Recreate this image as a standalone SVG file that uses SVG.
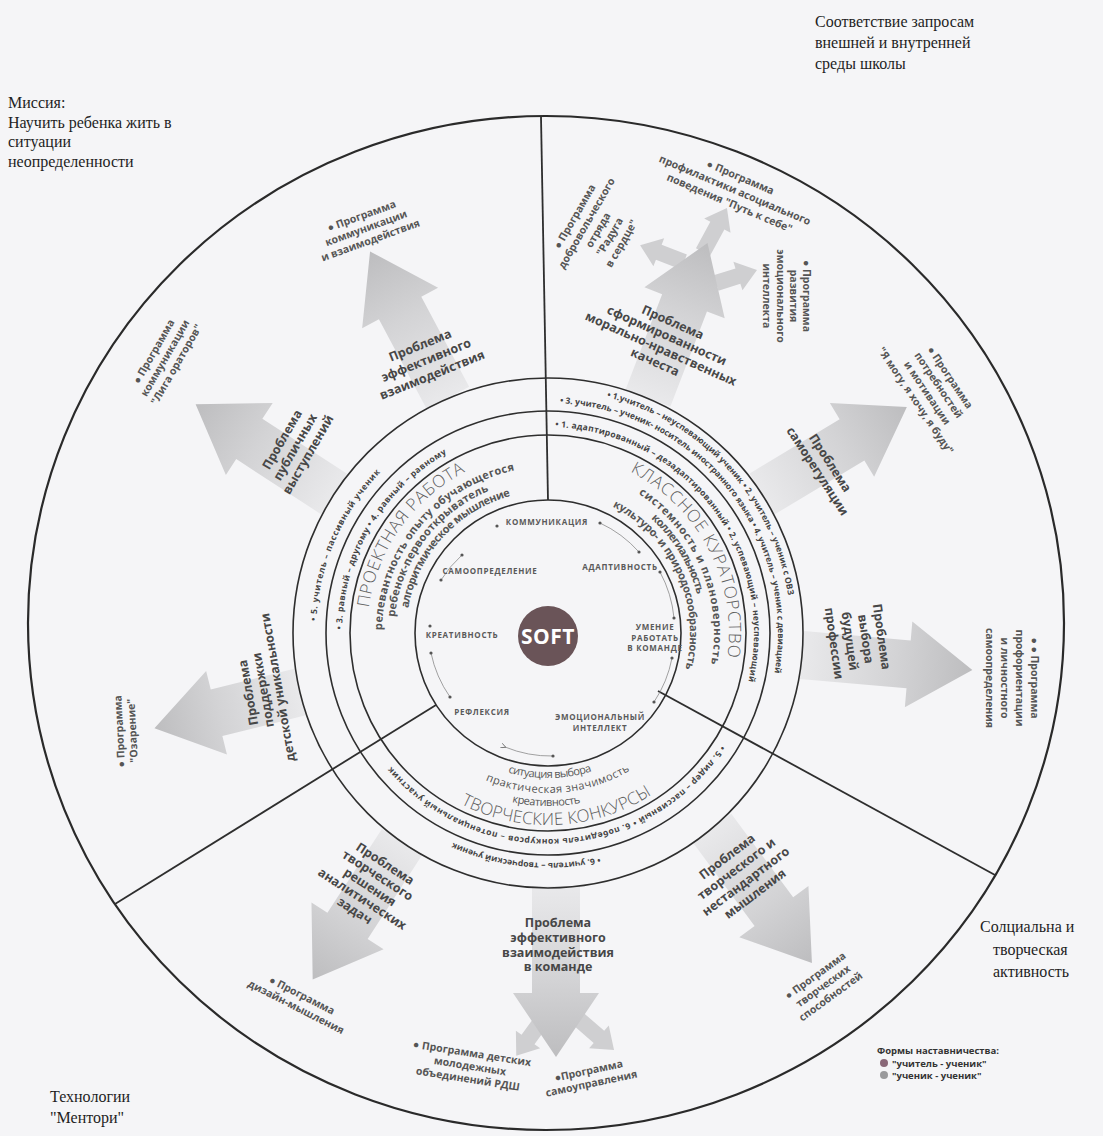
<svg xmlns="http://www.w3.org/2000/svg" width="1103" height="1136" viewBox="0 0 1103 1136">
<style>
.ring{fill:none;stroke:#2e2e2e;stroke-width:1.6}
.outer{fill:none;stroke:#2a2a2a;stroke-width:2.2}
.sep{stroke:#2e2e2e;stroke-width:1.8;fill:none}
.arr{fill:url(#ag)}
.sarr{fill:#cfcfd1}
.prob{font-family:"Open Sans","Noto Sans",sans-serif;font-weight:700;font-size:12.5px;fill:#474747;text-anchor:middle}
.prog{font-family:"Open Sans","Noto Sans",sans-serif;font-weight:700;font-size:10.5px;fill:#555;text-anchor:middle}
.skill{font-family:"Open Sans","Noto Sans",sans-serif;font-weight:700;font-size:8px;fill:#5a5a5a;letter-spacing:0.7px;text-anchor:middle}
.big{font-family:"Open Sans","Noto Sans",sans-serif;font-weight:300;font-size:17px;fill:#5e5e5e}
.sub{font-family:"Open Sans","Noto Sans",sans-serif;font-weight:700;font-size:11px;fill:#555}
.sub2{font-family:"Open Sans","Noto Sans",sans-serif;font-weight:400;font-size:11px;fill:#555}
.ment{font-family:"Open Sans","Noto Sans",sans-serif;font-weight:700;font-size:8.5px;fill:#444}
.corner{font-family:"Liberation Serif",serif;font-size:16px;fill:#1e1e1e}
.thin{fill:none;stroke:#8a8a8a;stroke-width:0.8}
.dot{fill:#555}
.leg{font-family:"Open Sans","Noto Sans",sans-serif;font-weight:700;font-size:9.5px;fill:#333}
</style>
<defs>
<linearGradient id="ag" x1="0" y1="0" x2="1" y2="0">
<stop offset="0" stop-color="#e9e9eb"/>
<stop offset="0.55" stop-color="#d3d3d5"/>
<stop offset="1" stop-color="#bdbdbf"/>
</linearGradient>
<marker id="ah" viewBox="0 0 6 6" refX="1" refY="3" markerWidth="6" markerHeight="6" orient="auto-start-reverse">
<path d="M6,0 L0,3 L6,6" fill="none" stroke="#666" stroke-width="1"/>
</marker>
<path id="t1" d="M368.8,607.8 A181,181 0 0 1 465.8,471.7"/>
<path id="t2" d="M382.0,630.1 A166,166 0 0 1 516.3,470.1"/>
<path id="t3" d="M394.8,616.9 A154,154 0 0 1 490.3,490.2"/>
<path id="t4" d="M408.2,608.3 A142,142 0 0 1 511.2,495.8"/>
<path id="t5" d="M342.0,629.4 A206,206 0 0 1 448.1,452.8"/>
<path id="t6" d="M316.3,620.9 A232,232 0 0 1 381.1,471.8"/>
<path id="t7" d="M630.2,471.7 A181,181 0 0 1 727.2,658.2"/>
<path id="t8" d="M638.4,493.8 A166,166 0 0 1 710.9,664.7"/>
<path id="t9" d="M651.0,518.6 A154,154 0 0 1 697.4,595.7"/>
<path id="t10" d="M612.5,506.5 A142,142 0 0 1 685.2,669.8"/>
<path id="t11" d="M555.2,427.1 A206,206 0 0 1 747.9,682.8"/>
<path id="t12" d="M560.0,403.3 A230,230 0 0 1 756.4,730.2"/>
<path id="t13" d="M606.8,397.2 A243,243 0 0 1 758.4,754.5"/>
<path id="t14" d="M460.8,804.1 A192,192 0 0 0 652.6,794.0"/>
<path id="t15" d="M512.0,802.2 A173,173 0 0 0 581.0,802.8"/>
<path id="t16" d="M485.5,780.3 A160,160 0 0 0 630.4,770.2"/>
<path id="t17" d="M508.0,772.4 A145,145 0 0 0 592.8,770.9"/>
<path id="t18" d="M720.8,745.2 A206,206 0 0 1 390.2,765.4"/>
<path id="t19" d="M599.7,857.1 A230,230 0 0 1 440.0,836.1"/>
</defs>
<rect width="1103" height="1136" fill="#f5f5f7"/>

<g id="arrows">
<path class="sarr" d="M0,-8 H30 V-15 L50,0 L30,15 V8 H0 Z" transform="translate(703,252) rotate(-61.4)"/>
<path class="sarr" d="M0,-8 H27 V-15 L47,0 L27,15 V8 H0 Z" transform="translate(684,262) rotate(201)"/>
<path class="sarr" d="M0,-8 H23 V-15 L43,0 L23,15 V8 H0 Z" transform="translate(716,283) rotate(-17.6)"/>
<path class="sarr" d="M0,-8 H34 V-15 L54,0 L34,15 V8 H0 Z" transform="translate(548,1012) rotate(126)"/>
<path class="sarr" d="M0,-8 H41 V-15 L61,0 L41,15 V8 H0 Z" transform="translate(568,1010) rotate(41)"/>
<path class="arr" d="M0,-24 H102 V-43 L166,0 L102,43 V24 H0 Z" transform="translate(448,398) rotate(242)"/>
<path class="arr" d="M0,-24 H101 V-43 L165,0 L101,43 V24 H0 Z" transform="translate(334,494) rotate(213)"/>
<path class="arr" d="M0,-24 H86 V-43 L150,0 L86,43 V24 H0 Z" transform="translate(300,692) rotate(166)"/>
<path class="arr" d="M0,-24 H100 V-43 L164,0 L100,43 V24 H0 Z" transform="translate(402,842) rotate(123)"/>
<path class="arr" d="M0,-24 H107 V-43 L171,0 L107,43 V24 H0 Z" transform="translate(556,886) rotate(90)"/>
<path class="arr" d="M0,-24 H104 V-43 L168,0 L104,43 V24 H0 Z" transform="translate(712,828) rotate(53.5)"/>
<path class="arr" d="M0,-24 H107 V-43 L171,0 L107,43 V24 H0 Z" transform="translate(802,655) rotate(5)"/>
<path class="arr" d="M0,-24 H105 V-43 L169,0 L105,43 V24 H0 Z" transform="translate(762,494) rotate(-31)"/>
<path class="arr" d="M0,-24 H102 V-43 L166,0 L102,43 V24 H0 Z" transform="translate(648,398) rotate(-69)"/>
</g>

<g id="connectors">
<ellipse class="outer" cx="546" cy="623" rx="518" ry="507"/>
<circle class="ring" cx="548" cy="633" r="255"/>
<circle class="ring" cx="548" cy="633" r="222"/>
<circle class="ring" cx="548" cy="633" r="198"/>
<circle class="ring" cx="548" cy="633" r="133"/>
<line class="sep" x1="541" y1="117" x2="548" y2="500"/>
<line class="sep" x1="436" y1="705" x2="115" y2="904"/>
<line class="sep" x1="658" y1="691" x2="995" y2="875"/>
<path class="thin" d="M600,523 A120,120 0 0 1 639,552"/>
<path class="thin" d="M441,580 A120,120 0 0 1 462,555"/>
<path class="thin" d="M431,653 A120,120 0 0 0 450,697"/>
<path class="thin" d="M505,747 A120,120 0 0 0 553,756" marker-start="url(#ah)"/>
<path class="thin" d="M654,702 A120,120 0 0 0 672,658"/>
<path class="thin" d="M660,572 A120,120 0 0 1 674,618"/>
</g>

<g id="soft">
<circle cx="548" cy="636" r="30" fill="#6a5458"/>
<text x="548" y="643.5" font-family="Open Sans, Noto Sans, sans-serif" font-weight="700" font-size="21" fill="#ffffff" text-anchor="middle" letter-spacing="0.5">SOFT</text>
</g>

<g id="skills">
<circle class="dot" cx="497" cy="526" r="1.6"/><circle class="dot" cx="600" cy="523" r="1.6"/>
<circle class="dot" cx="639" cy="552" r="1.6"/><circle class="dot" cx="660" cy="572" r="1.6"/>
<circle class="dot" cx="674" cy="618" r="1.6"/><circle class="dot" cx="462" cy="555" r="1.6"/>
<circle class="dot" cx="441" cy="580" r="1.6"/><circle class="dot" cx="430" cy="626" r="1.6"/>
<circle class="dot" cx="431" cy="653" r="1.6"/><circle class="dot" cx="450" cy="697" r="1.6"/>
<circle class="dot" cx="553" cy="756" r="1.6"/><circle class="dot" cx="654" cy="702" r="1.6"/>
<circle class="dot" cx="672" cy="658" r="1.6"/>
<text class="skill" x="547" y="525">КОММУНИКАЦИЯ</text>
<text class="skill" x="620" y="570">АДАПТИВНОСТЬ</text>
<text class="skill" x="490" y="574">САМООПРЕДЕЛЕНИЕ</text>
<text class="skill" x="462" y="638">КРЕАТИВНОСТЬ</text>
<text class="skill"><tspan x="655" y="630">УМЕНИЕ</tspan><tspan x="655" y="640.5">РАБОТАТЬ</tspan><tspan x="655" y="651">В КОМАНДЕ</tspan></text>
<text class="skill" x="482" y="715">РЕФЛЕКСИЯ</text>
<text class="skill"><tspan x="600" y="720">ЭМОЦИОНАЛЬНЫЙ</tspan><tspan x="600" y="731">ИНТЕЛЛЕКТ</tspan></text>
</g>

<g id="forms">
<text class="big"><textPath href="#t1" textLength="173" lengthAdjust="spacing">ПРОЕКТНАЯ РАБОТА</textPath></text>
<text class="sub"><textPath href="#t2" textLength="224" lengthAdjust="spacing">релевантность опыту обучающегося</textPath></text>
<text class="sub"><textPath href="#t3" textLength="165" lengthAdjust="spacing">ребенок-первооткрыватель</textPath></text>
<text class="sub"><textPath href="#t4" textLength="160" lengthAdjust="spacing">алгоритмическое мышление</textPath></text>
<text class="big"><textPath href="#t7" textLength="223" lengthAdjust="spacing">КЛАССНОЕ КУРАТОРСТВО</textPath></text>
<text class="sub"><textPath href="#t8" textLength="196" lengthAdjust="spacing">системность и плановерность</textPath></text>
<text class="sub"><textPath href="#t9" textLength="90" lengthAdjust="spacing">коллегиальность</textPath></text>
<text class="sub"><textPath href="#t10" textLength="192" lengthAdjust="spacing">культуро- и природосообразность</textPath></text>
<text class="big"><textPath href="#t14" textLength="200" lengthAdjust="spacing">ТВОРЧЕСКИЕ КОНКУРСЫ</textPath></text>
<text class="sub2"><textPath href="#t15" textLength="69" lengthAdjust="spacing">креативность</textPath></text>
<text class="sub2"><textPath href="#t16" textLength="150" lengthAdjust="spacing">практическая значимость</textPath></text>
<text class="sub2"><textPath href="#t17" textLength="85" lengthAdjust="spacing">ситуация выбора</textPath></text>
</g>

<g id="mentoring">
<text class="ment"><textPath href="#t5" textLength="214" lengthAdjust="spacing">• 3. равный – другому  • 4. равный – равному</textPath></text>
<text class="ment"><textPath href="#t6" textLength="165" lengthAdjust="spacing">• 5. учитель – пассивный ученик</textPath></text>
<text class="ment"><textPath href="#t11" textLength="365" lengthAdjust="spacing">• 1. адаптированный – дезадаптированный  • 2. успевающий – неуспевающий</textPath></text>
<text class="ment"><textPath href="#t12">• 3. учитель – ученик- носитель иностранного языка  • 4. учитель – ученик с девиацией</textPath></text>
<text class="ment"><textPath href="#t13">• 1.учитель – неуспевающий ученик  • 2. учитель – ученик с ОВЗ</textPath></text>
<text class="ment"><textPath href="#t18" textLength="383" lengthAdjust="spacing">• 5. лидер – пассивный  • 6. победитель конкурсов – потенциальный участник</textPath></text>
<text class="ment"><textPath href="#t19" textLength="150" lengthAdjust="spacing">• 6. учитель – творческий ученик</textPath></text>
</g>

<g id="problems">
<text class="prob" transform="translate(426,360) rotate(-22)"><tspan x="0" y="-11.6">Проблема</tspan><tspan x="0" y="4.4">эффективного</tspan><tspan x="0" y="20.4">взаимодействия</tspan></text>
<text class="prob" transform="translate(295,447) rotate(-60)"><tspan x="0" y="-10.6">Проблема</tspan><tspan x="0" y="4.4">публичных</tspan><tspan x="0" y="19.4">выступлений</tspan></text>
<text class="prob" transform="translate(263,690) rotate(-100)"><tspan x="0" y="-10.6">Проблема</tspan><tspan x="0" y="4.4">поддержки</tspan><tspan x="0" y="19.4">детской уникальности</tspan></text>
<text class="prob" transform="translate(370,887) rotate(33)"><tspan x="0" y="-23.6">Проблема</tspan><tspan x="0" y="-9.6">творческого</tspan><tspan x="0" y="4.4">решения</tspan><tspan x="0" y="18.4">аналитических</tspan><tspan x="0" y="32.4">задач</tspan></text>
<text class="prob" transform="translate(558,945)"><tspan x="0" y="-17.65">Проблема</tspan><tspan x="0" y="-2.95">эффективного</tspan><tspan x="0" y="11.75">взаимодействия</tspan><tspan x="0" y="26.45">в команде</tspan></text>
<text class="prob" transform="translate(741,875) rotate(-37)"><tspan x="0" y="-18.85">Проблема</tspan><tspan x="0" y="-3.35">творческого и</tspan><tspan x="0" y="12.15">нестандартного</tspan><tspan x="0" y="27.65">мышления</tspan></text>
<text class="prob" transform="translate(858,640) rotate(82)"><tspan x="0" y="-19.6">Проблема</tspan><tspan x="0" y="-3.6">выбора</tspan><tspan x="0" y="12.4">будущей</tspan><tspan x="0" y="28.4">профессии</tspan></text>
<text class="prob" transform="translate(824,467) rotate(57)"><tspan x="0" y="-3.1">Проблема</tspan><tspan x="0" y="11.9">саморегуляции</tspan></text>
<text class="prob" transform="translate(664,342) rotate(24)"><tspan x="0" y="-17.35">Проблема</tspan><tspan x="0" y="-2.85">сформированности</tspan><tspan x="0" y="11.65">морально-нравственных</tspan><tspan x="0" y="26.15">качеста</tspan></text>
</g>

<g id="programs">
<text class="prog" transform="translate(366,228) rotate(-20)"><tspan x="0" y="-9.3">● Программа</tspan><tspan x="0" y="3.7">коммуникации</tspan><tspan x="0" y="16.7">и взаимодействия</tspan></text>
<text class="prog" transform="translate(165,358) rotate(-60)"><tspan x="0" y="-9.3">● Программа</tspan><tspan x="0" y="3.7">коммуникации</tspan><tspan x="0" y="16.7">"Лига ораторов"</tspan></text>
<text class="prog" transform="translate(126,731) rotate(-93)"><tspan x="0" y="-2.8">● Программа</tspan><tspan x="0" y="10.2">"Озарение"</tspan></text>
<text class="prog" transform="translate(299,1001) rotate(27)"><tspan x="0" y="-2.8">● Программа</tspan><tspan x="0" y="10.2">дизайн-мышления</tspan></text>
<text class="prog" transform="translate(470,1066) rotate(9)"><tspan x="0" y="-9.3">● Программа детских</tspan><tspan x="0" y="3.7">молодежных</tspan><tspan x="0" y="16.7">объединений РДШ</tspan></text>
<text class="prog" transform="translate(590,1077) rotate(-12)"><tspan x="0" y="-2.8">●Программа</tspan><tspan x="0" y="10.2">самоуправления</tspan></text>
<text class="prog" transform="translate(823,986) rotate(-36)"><tspan x="0" y="-9.3">● Программа</tspan><tspan x="0" y="3.7">творческих</tspan><tspan x="0" y="16.7">способностей</tspan></text>
<text class="prog" transform="translate(1012,678) rotate(90)"><tspan x="0" y="-18.8">● ● Программа</tspan><tspan x="0" y="-3.8">профориентации</tspan><tspan x="0" y="11.2">и личностного</tspan><tspan x="0" y="26.2">самоопределения</tspan></text>
<text class="prog" transform="translate(933,389) rotate(56)"><tspan x="0" y="-17">● Программа</tspan><tspan x="0" y="-3.2">потребностей</tspan><tspan x="0" y="10.6">и мотивации</tspan><tspan x="0" y="24.4">"Я могу, я хочу, я буду"</tspan></text>
<text class="prog" transform="translate(598,230) rotate(-60)"><tspan x="0" y="-23.3">● Программа</tspan><tspan x="0" y="-9.8">добровольческого</tspan><tspan x="0" y="3.7">отряда</tspan><tspan x="0" y="17.2">"Радуга</tspan><tspan x="0" y="30.7">в сердце"</tspan></text>
<text class="prog" transform="translate(735,190) rotate(23)"><tspan x="0" y="-10.3">● Программа</tspan><tspan x="0" y="3.7">профилактики асоциального</tspan><tspan x="0" y="17.7">поведения "Путь к себе"</tspan></text>
<text class="prog" transform="translate(787,296) rotate(90)"><tspan x="0" y="-16.25">● Программа</tspan><tspan x="0" y="-2.95">развития</tspan><tspan x="0" y="10.35">эмоционального</tspan><tspan x="0" y="23.65">интеллекта</tspan></text>
</g>

<g id="corners">
<text class="corner"><tspan x="8" y="108">Миссия:</tspan><tspan x="8" y="128">Научить ребенка жить в</tspan><tspan x="8" y="147">ситуации</tspan><tspan x="8" y="167">неопределенности</tspan></text>
<text class="corner"><tspan x="815" y="27">Соответствие запросам</tspan><tspan x="815" y="48">внешней и внутренней</tspan><tspan x="815" y="69">среды школы</tspan></text>
<text class="corner"><tspan x="980" y="932">Солциальна и</tspan><tspan x="993" y="955">творческая</tspan><tspan x="993" y="977">активность</tspan></text>
<text class="corner"><tspan x="50" y="1102">Технологии</tspan><tspan x="50" y="1123">"Ментори"</tspan></text>
</g>

<g id="legend">
<text class="leg" x="877" y="1054">Формы наставничества:</text>
<circle cx="884" cy="1063" r="4" fill="#8a6878"/>
<circle cx="884" cy="1075" r="4" fill="#9a9a9c"/>
<text class="leg" x="892" y="1066.5">"учитель - ученик"</text>
<text class="leg" x="892" y="1078.5">"ученик - ученик"</text>
</g>
</svg>
